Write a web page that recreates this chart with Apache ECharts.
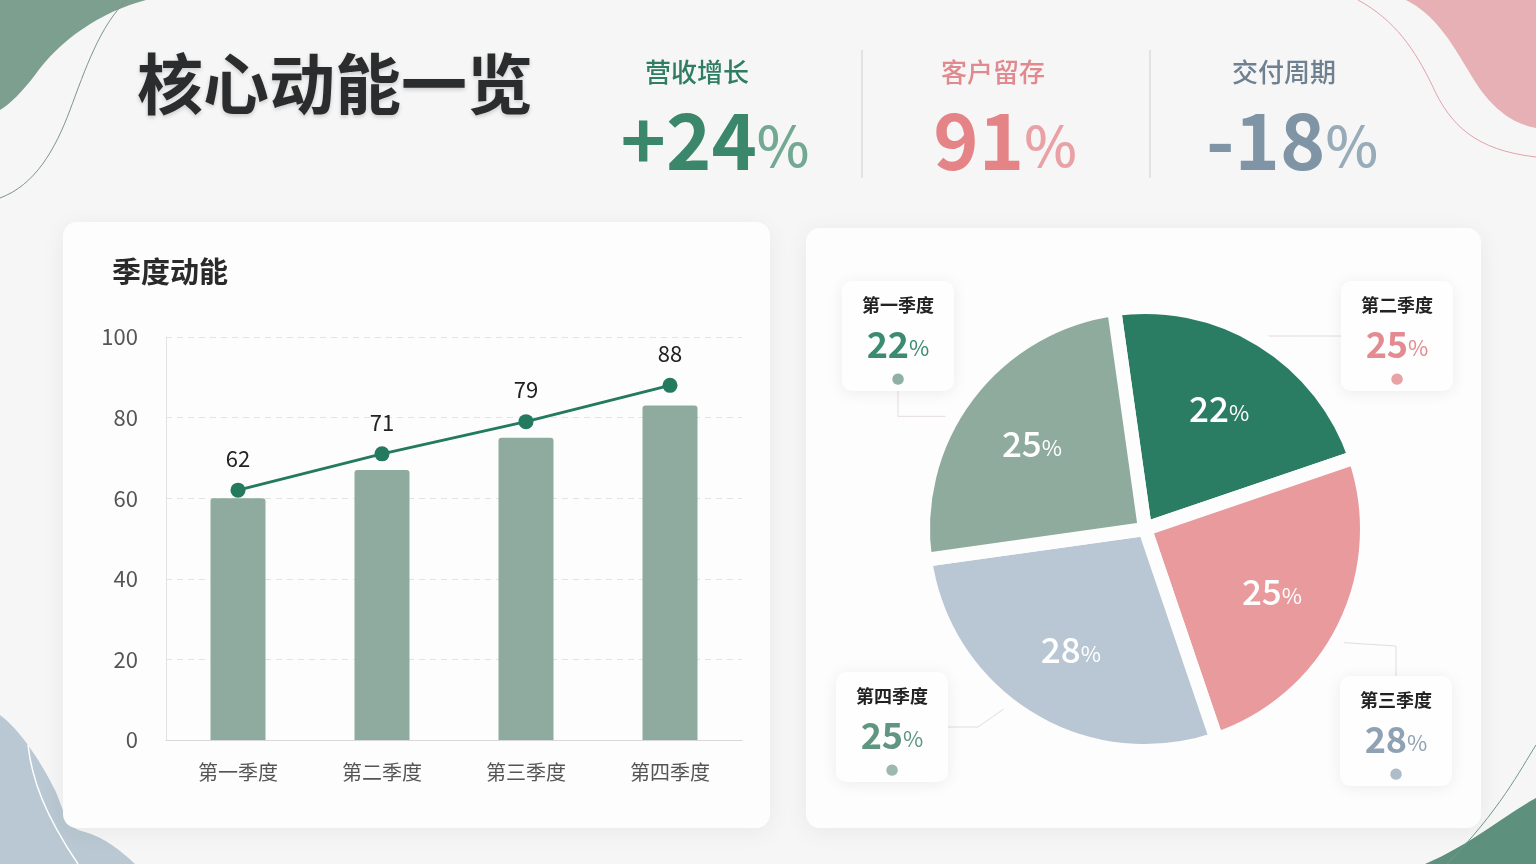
<!DOCTYPE html>
<html><head><meta charset="utf-8">
<script src="https://cdn.jsdelivr.net/npm/echarts@6/dist/echarts.min.js"></script>
<style>html,body{margin:0;padding:0;background:#f6f6f6;}#c{width:1536px;height:864px;}</style>
</head><body><div id="c"></div>
<script>
// ---- data ----
const categories = ['第一季度', '第二季度', '第三季度', '第四季度'];
const barValues = [60, 67, 75, 83];
const lineValues = [62, 71, 79, 88];
const yMin = 0, yMax = 100, yInterval = 20;
const pieValues = [22, 25, 28, 25];
const kpiNames = ['营收增长', '客户留存', '交付周期'];
const kpiValues = ['+24', '91', '-18'];
const kpiUnit = '%';
const pageTitle = '核心动能一览';
const barTitle = '季度动能';

// ---- styles ----
const FONT = '"Noto Sans CJK SC", "Noto Sans", sans-serif';
const sliceColors = ['#2a7d63', '#e89a9d', '#b8c7d3', '#8eab9e'];
const boxValueColors = ['#3b8b70', '#e38b90', '#8fa2b3', '#5f9581'];
const boxDotColors = ['#8fb0a3', '#e8a3a7', '#aebdc9', '#9db9ad'];
const kpiLabelColors = ['#2f7d62', '#e0898e', '#6f8191'];
const kpiValueColors = [['#3a876c', '#73a893'], ['#e58487', '#eaa1a5'], ['#7f95a5', '#98abb9']];
const kpiCenters = [[715, 697], [1005, 993], [1292, 1284]];
const boxPos = [[898, 336], [1397, 336], [1396, 731], [892, 727]];
const pieCenter = [1145, 529];
const pieStart = 98;

const decoPaths = {
  blobTL: 'M0,0 L146,0 C100,12 60,40 35,75 C22,92 10,104 0,110 Z',
  lineTL: 'M127,0 C100,25 85,70 70,110 C55,150 35,185 0,198',
  blobTR: 'M1406,0 L1536,0 L1536,128 C1505,122 1485,100 1468,70 C1450,40 1435,15 1406,0 Z',
  lineTR: 'M1358,0 C1395,20 1415,50 1432,85 C1450,125 1475,150 1536,157',
  blobBL: 'M0,715 C20,730 40,760 55,790 C65,812 65,828 85,832 C105,838 120,850 135,864 L0,864 Z',
  lineBL: 'M28,745 C32,780 45,815 78,864',
  blobBR: 'M1536,798 C1505,815 1470,845 1425,864 L1536,864 Z',
  lineBR: 'M1536,745 C1520,770 1500,810 1447,864'
};
Object.keys(decoPaths).forEach(k => {
  echarts.graphic.registerShape(k, echarts.graphic.extendPath(decoPaths[k], {}));
});

const chart = echarts.init(document.getElementById('c'), null, {renderer: 'canvas'});

const graphics = [];
const blobStyle = {
  blobTL: {fill: '#7c9f90'}, lineTL: {fill: null, stroke: '#7f948b', lineWidth: 1},
  blobTR: {fill: '#e6b0b4'}, lineTR: {fill: null, stroke: '#e0a4aa', lineWidth: 1},
  blobBL: {fill: '#b9c8d2'}, lineBL: {fill: null, stroke: '#ffffff', lineWidth: 1.5},
  blobBR: {fill: '#5e917d'}, lineBR: {fill: null, stroke: '#6d9a88', lineWidth: 1}
};
Object.keys(decoPaths).forEach(k => graphics.push({type: k, z: -20, silent: true, style: blobStyle[k]}));
// cards
graphics.push({type: 'rect', z: -10, shape: {x: 63, y: 222, width: 707, height: 606, r: 14}, style: {fill: '#fdfdfd', shadowColor: 'rgba(0,0,0,0.06)', shadowBlur: 24, shadowOffsetY: 4}});
graphics.push({type: 'rect', z: -10, shape: {x: 806, y: 228, width: 675, height: 600, r: 14}, style: {fill: '#fdfdfd', shadowColor: 'rgba(0,0,0,0.06)', shadowBlur: 24, shadowOffsetY: 4}});
// titles
graphics.push({type: 'text', x: 137, y: 84, style: {text: pageTitle, font: 'bold 66px ' + FONT, fill: '#2a2c2d', verticalAlign: 'middle', textShadowColor: 'rgba(0,0,0,0.18)', textShadowBlur: 4, textShadowOffsetY: 2}});
graphics.push({type: 'text', x: 112, y: 272, style: {text: barTitle, font: 'bold 29px ' + FONT, fill: '#2a2a2a', verticalAlign: 'middle'}});
// KPIs
kpiNames.forEach((name, i) => {
  graphics.push({type: 'text', x: kpiCenters[i][1], y: 72, style: {text: name, font: '500 26px ' + FONT, fill: kpiLabelColors[i], align: 'center', verticalAlign: 'middle'}});
  graphics.push({type: 'text', x: kpiCenters[i][0], y: 141, style: {
    text: '{v|' + kpiValues[i] + '}{u|' + kpiUnit + '}', align: 'center', verticalAlign: 'middle',
    rich: {
      v: {font: 'bold 77px ' + FONT, fill: kpiValueColors[i][0]},
      u: {font: '500 56px ' + FONT, fill: kpiValueColors[i][1], padding: [10, 0, 0, 0]}
    }
  }});
});
[862, 1150].forEach(x => graphics.push({type: 'line', shape: {x1: x, y1: 50, x2: x, y2: 178}, style: {stroke: '#d6d6d6', lineWidth: 1.2}}));

const boxRich = {n: {fontFamily: FONT, fontSize: 18, fontWeight: 'bold', color: '#222', lineHeight: 32}};
for (let i = 0; i < 4; i++) {
  boxRich['v' + i] = {fontFamily: FONT, fontSize: 36, fontWeight: 600, color: boxValueColors[i], lineHeight: 46};
  boxRich['p' + i] = {fontFamily: FONT, fontSize: 22, color: boxValueColors[i], lineHeight: 46, padding: [8, 0, 0, 0]};
  boxRich['d' + i] = {fontFamily: 'DejaVu Sans', fontSize: 15, color: boxDotColors[i], lineHeight: 24};
}

const option = {
  backgroundColor: '#f6f6f6',
  animation: false,
  graphic: {elements: graphics},
  grid: {left: 166, top: 337, width: 576, height: 403},
  xAxis: {
    type: 'category', data: categories,
    axisTick: {show: false},
    axisLine: {show: true, lineStyle: {color: '#d8d8d8', width: 1}},
    axisLabel: {fontFamily: FONT, fontSize: 20, color: '#555', margin: 22}
  },
  yAxis: {
    type: 'value', min: yMin, max: yMax, interval: yInterval,
    axisLine: {show: true, lineStyle: {color: '#e2e2e2'}},
    axisTick: {show: false},
    axisLabel: {fontFamily: FONT, fontSize: 22, color: '#555', margin: 28},
    splitLine: {show: true, lineStyle: {type: [6, 5], color: '#e3e3e3'}}
  },
  series: [
    {
      type: 'bar', data: barValues, barWidth: 55, silent: true,
      itemStyle: {color: '#8fab9f', borderRadius: [3, 3, 0, 0]}
    },
    {
      type: 'line', data: lineValues, symbol: 'circle', symbolSize: 15, silent: true, z: 5,
      lineStyle: {color: '#237a5f', width: 3},
      itemStyle: {color: '#237a5f'},
      label: {show: true, position: 'top', distance: 13, fontFamily: FONT, fontSize: 22, color: '#222'}
    },
    {
      type: 'pie', center: pieCenter, radius: [0, 222], startAngle: pieStart, silent: true,
      data: categories.map((n, i) => ({name: n, value: pieValues[i], itemStyle: {color: sliceColors[i]}})),
      itemStyle: {borderColor: '#fdfdfd', borderWidth: 14},
      label: {show: false}, labelLine: {show: false}
    },
    {
      type: 'pie', center: pieCenter, radius: [62, 215], startAngle: pieStart, silent: true, z: 4,
      data: categories.map((n, i) => ({name: n, value: pieValues[i]})),
      itemStyle: {color: 'rgba(0,0,0,0)'},
      label: {
        show: true, position: 'inside', formatter: p => '{v|' + p.value + '}{p|%}',
        rich: {
          v: {fontFamily: FONT, fontSize: 35, fontWeight: 500, color: '#fff'},
          p: {fontFamily: FONT, fontSize: 22, color: '#fff', padding: [8, 0, 0, 0]}
        }
      },
      labelLine: {show: false}
    },
    {
      type: 'pie', center: pieCenter, radius: [0, 215], startAngle: pieStart + 90, silent: true, z: 1,
      data: categories.map((n, i) => ({name: n, value: pieValues[i]})),
      itemStyle: {color: 'rgba(0,0,0,0)'},
      label: {
        show: true, position: 'outside',
        formatter: p => '{n|' + p.name + '}\n{v' + p.dataIndex + '|' + p.value + '}{p' + p.dataIndex + '|%}\n{d' + p.dataIndex + '|●}',
        backgroundColor: '#fefefe', borderRadius: 10, padding: [8, 20, 0, 20],
        shadowColor: 'rgba(0,0,0,0.07)', shadowBlur: 16, shadowOffsetY: 2,
        align: 'center', rich: boxRich
      },
      labelLine: {show: true, length: 18, length2: 30, lineStyle: {color: '#e5dcdc', width: 1}},
      labelLayout: p => ({x: boxPos[p.dataIndex][0], y: boxPos[p.dataIndex][1], align: 'center', verticalAlign: 'middle'})
    }
  ]
};
chart.setOption(option);
</script>
</body></html>
